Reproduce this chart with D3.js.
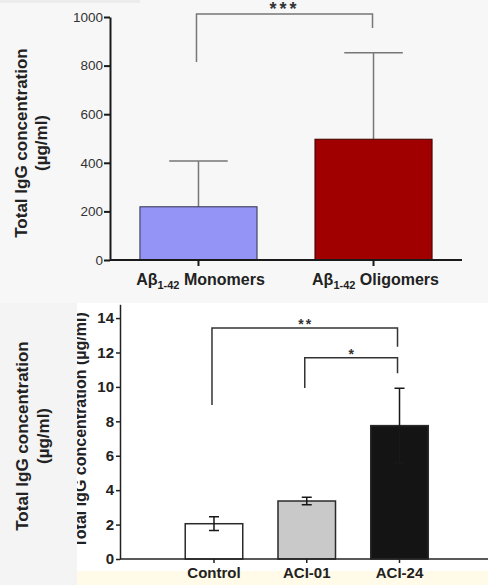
<!DOCTYPE html>
<html>
<head>
<meta charset="utf-8">
<script src="https://cdn.jsdelivr.net/npm/d3@7"></script>
<style>
  body { margin: 0; padding: 0; background: #f7f7f7; }
  svg { display: block; font-family: "Liberation Sans", Arial, sans-serif; }
</style>
</head>
<body>
<div id="chart"></div>
<script>
// Top panel data (Abeta 1-42 antibodies)
var topCats = ["Monomers", "Oligomers"];
var topMeans = [219, 497];
var topErr = [188, 356];
var topTicks = [0, 200, 400, 600, 800, 1000];

// Bottom panel data (vaccine groups)
var botCats = ["Control", "ACI-01", "ACI-24"];
var botMeans = [2.05, 3.37, 7.75];
var botErr = [0.4, 0.22, 2.17];
var botTicks = [0, 2, 4, 6, 8, 10, 12, 14];

// significance brackets: category indices, heights in data units
var topSig = [{ a: 0, b: 1, top: 1012, endA: 815, endB: 955, label: "***" }];
var botSig = [
    { a: 0, b: 2, top: 13.43, endA: 8.95, endB: 12.33, label: "**" },
    { a: 1, b: 2, top: 11.7, endA: 9.94, endB: 10.8, label: "*" }
];

var svgWidth = 488;
var svgHeight = 585;

var svg = d3.select("#chart")
    .append("svg")
    .attr("width", svgWidth)
    .attr("height", svgHeight);

// Backgrounds of the two pasted panels
svg.append("rect").attr("x", 0).attr("y", 0).attr("width", svgWidth).attr("height", 303).attr("fill", "#f7f7f7");
svg.append("rect").attr("x", 0).attr("y", 0).attr("width", 140).attr("height", 3).attr("fill", "#ececec");
svg.append("rect").attr("x", 0).attr("y", 303).attr("width", svgWidth).attr("height", 268).attr("fill", "#ffffff");
svg.append("rect").attr("x", 77).attr("y", 571).attr("width", svgWidth - 77).attr("height", 14).attr("fill", "#fffbe8");

// Clipped inner y label of the bottom panel (drawn before the grey strip)
svg.append("text")
    .attr("transform", "translate(86, 430) rotate(-90)")
    .attr("text-anchor", "middle")
    .attr("font-size", 16)
    .attr("font-weight", "bold")
    .attr("fill", "#222")
    .text("Total IgG concentration (\u00b5g/ml)");

svg.append("rect").attr("x", 0).attr("y", 303).attr("width", 77).attr("height", 282).attr("fill", "#f4f4f4");

// ---------- TOP PANEL ----------
var topY = d3.scaleLinear().domain([0, 1000]).range([260, 17]);
var topX = d3.scaleBand()
    .domain(topCats)
    .range([110, 462])
    .paddingInner(0.331)
    .paddingOuter(0.171);

var topColor = d3.scaleOrdinal().domain(topCats).range(["#9494f7", "#a00000"]);
var topStroke = d3.scaleOrdinal().domain(topCats).range(["#30304a", "#3a0000"]);

var topG = svg.append("g");

// error bars (upper only, drawn behind bars)
topG.selectAll(".errTop")
    .data(topCats)
    .enter()
    .append("path")
    .attr("d", function(d, i) {
        var cx = topX(d) + topX.bandwidth() / 2;
        var w = topX.bandwidth() / 4;
        var yTop = topY(topMeans[i] + topErr[i]);
        return "M" + cx + "," + topY(topMeans[i]) + "V" + yTop + "M" + (cx - w) + "," + yTop + "H" + (cx + w);
    })
    .attr("stroke", "#777")
    .attr("stroke-width", 1.5)
    .attr("fill", "none");

topG.selectAll(".barTop")
    .data(topCats)
    .enter()
    .append("rect")
    .attr("x", d => topX(d))
    .attr("y", (d, i) => topY(topMeans[i]))
    .attr("width", topX.bandwidth())
    .attr("height", (d, i) => topY(0) - topY(topMeans[i]))
    .attr("fill", d => topColor(d))
    .attr("stroke", d => topStroke(d))
    .attr("stroke-width", 1);

// y axis
var topYAxis = topG.append("g")
    .attr("transform", "translate(110, 0)")
    .call(d3.axisLeft(topY).tickValues(topTicks).tickFormat(d3.format("d")).tickSize(6).tickSizeOuter(0));
topYAxis.select(".domain").attr("stroke", "#1a1a1a").attr("stroke-width", 2);
topYAxis.selectAll(".tick line").attr("stroke", "#1a1a1a").attr("stroke-width", 2);
topYAxis.selectAll(".tick text")
    .attr("font-size", 13.5)
    .attr("fill", "#333")
    .attr("font-family", "Liberation Sans, Arial, sans-serif")
    .attr("x", -7);

// x axis
topG.append("line")
    .attr("x1", 110).attr("x2", 462)
    .attr("y1", topY(0)).attr("y2", topY(0))
    .attr("stroke", "#1a1a1a").attr("stroke-width", 2);
var topXAxis = topG.append("g")
    .attr("transform", `translate(0, ${topY(0)})`)
    .call(d3.axisBottom(topX).tickSize(6).tickFormat(""));
topXAxis.select(".domain").remove();
topXAxis.selectAll(".tick line").attr("stroke", "#1a1a1a").attr("stroke-width", 2);

// x labels with subscript
var topLabels = topG.selectAll(".topLabel")
    .data(topCats)
    .enter()
    .append("text")
    .attr("x", d => topX(d) + topX.bandwidth() / 2 + 2)
    .attr("y", 285)
    .attr("text-anchor", "middle")
    .attr("font-weight", "bold")
    .attr("font-size", 16)
    .attr("fill", "#222");
topLabels.append("tspan").text("A\u03b2");
topLabels.append("tspan").attr("font-size", 11).attr("dy", 4).text("1-42");
topLabels.append("tspan").attr("dy", -4).text(d => " " + d);

// brackets
topSig.forEach(function(s) {
    var xa = topX(topCats[s.a]) + topX.bandwidth() / 2 - 2;
    var xb = topX(topCats[s.b]) + topX.bandwidth() / 2 - 1;
    topG.append("path")
        .attr("d", "M" + xa + "," + topY(s.endA) + "V" + topY(s.top) + "H" + xb + "V" + topY(s.endB))
        .attr("stroke", "#777").attr("stroke-width", 1.5).attr("fill", "none");
    topG.append("text")
        .attr("x", (xa + xb) / 2)
        .attr("y", topY(s.top) + 1)
        .attr("text-anchor", "middle")
        .attr("font-size", 18)
        .attr("font-weight", "bold")
        .attr("letter-spacing", 3)
        .attr("fill", "#333")
        .text(s.label);
});

// top y title
var topTitle = svg.append("text")
    .attr("transform", "translate(27, 143) rotate(-90)")
    .attr("text-anchor", "middle")
    .attr("font-size", 17)
    .attr("font-weight", "bold")
    .attr("fill", "#222");
topTitle.append("tspan").attr("x", 0).attr("y", 0).text("Total IgG concentration");
topTitle.append("tspan").attr("x", 0).attr("y", 20).text("(\u00b5g/ml)");

// ---------- BOTTOM PANEL ----------
var botY = d3.scaleLinear().domain([0, 14.8]).range([559, 304.3]);
var botX = d3.scaleBand()
    .domain(botCats)
    .range([157.4, 456.1])
    .paddingInner(0.38)
    .paddingOuter(0.3);

var botColor = d3.scaleOrdinal().domain(botCats).range(["#ffffff", "#c9c9c9", "#141414"]);

var botG = svg.append("g");

botG.selectAll(".barBot")
    .data(botCats)
    .enter()
    .append("rect")
    .attr("x", d => botX(d))
    .attr("y", (d, i) => botY(botMeans[i]))
    .attr("width", botX.bandwidth())
    .attr("height", (d, i) => botY(0) - botY(botMeans[i]))
    .attr("fill", d => botColor(d))
    .attr("stroke", "#2a2a2a")
    .attr("stroke-width", 1.5);

botG.selectAll(".errBot")
    .data(botCats)
    .enter()
    .append("path")
    .attr("d", function(d, i) {
        var cx = botX(d) + botX.bandwidth() / 2;
        var w = 5;
        var y1 = botY(botMeans[i] + botErr[i]);
        var y0 = botY(botMeans[i] - botErr[i]);
        return "M" + cx + "," + y0 + "V" + y1 +
            "M" + (cx - w) + "," + y1 + "H" + (cx + w) +
            "M" + (cx - w) + "," + y0 + "H" + (cx + w);
    })
    .attr("stroke", "#181818")
    .attr("stroke-width", 1.5)
    .attr("fill", "none");

// y axis
var botYAxis = botG.append("g")
    .attr("transform", "translate(120, 0)")
    .call(d3.axisLeft(botY).tickValues(botTicks).tickSize(4).tickSizeOuter(0));
botYAxis.select(".domain").attr("stroke", "#222").attr("stroke-width", 1.5);
botYAxis.selectAll(".tick line").attr("stroke", "#222").attr("stroke-width", 1.5);
botYAxis.selectAll(".tick text")
    .attr("font-size", 15)
    .attr("font-weight", "bold")
    .attr("fill", "#222")
    .attr("font-family", "Liberation Sans, Arial, sans-serif")
    .attr("x", -6);

// x axis
botG.append("line")
    .attr("x1", 120).attr("x2", svgWidth)
    .attr("y1", botY(0)).attr("y2", botY(0))
    .attr("stroke", "#222").attr("stroke-width", 1.5);
var botXAxis = botG.append("g")
    .attr("transform", `translate(0, ${botY(0)})`)
    .call(d3.axisBottom(botX).tickSize(4));
botXAxis.select(".domain").remove();
botXAxis.selectAll(".tick line").attr("stroke", "#222").attr("stroke-width", 1.5);
botXAxis.selectAll(".tick text")
    .attr("font-size", 15)
    .attr("font-weight", "bold")
    .attr("fill", "#222")
    .attr("font-family", "Liberation Sans, Arial, sans-serif")
    .attr("y", 8)
    .attr("dy", "0.71em");

// brackets
botSig.forEach(function(s) {
    var xa = botX(botCats[s.a]) + botX.bandwidth() / 2 - 2;
    var xb = botX(botCats[s.b]) + botX.bandwidth() / 2 - 2;
    botG.append("path")
        .attr("d", "M" + xa + "," + botY(s.endA) + "V" + botY(s.top) + "H" + xb + "V" + botY(s.endB))
        .attr("stroke", "#333").attr("stroke-width", 1.5).attr("fill", "none");
    botG.append("text")
        .attr("x", (xa + xb) / 2 + 1)
        .attr("y", botY(s.top) + 1)
        .attr("text-anchor", "middle")
        .attr("font-size", 14)
        .attr("font-weight", "bold")
        .attr("letter-spacing", 2)
        .attr("fill", "#333")
        .text(s.label);
});

// bottom outer y title
var botTitle = svg.append("text")
    .attr("transform", "translate(28, 436) rotate(-90)")
    .attr("text-anchor", "middle")
    .attr("font-size", 17)
    .attr("font-weight", "bold")
    .attr("fill", "#222");
botTitle.append("tspan").attr("x", 0).attr("y", 0).text("Total IgG concentration");
botTitle.append("tspan").attr("x", 0).attr("y", 21).text("(\u00b5g/ml)");
</script>
</body>
</html>
